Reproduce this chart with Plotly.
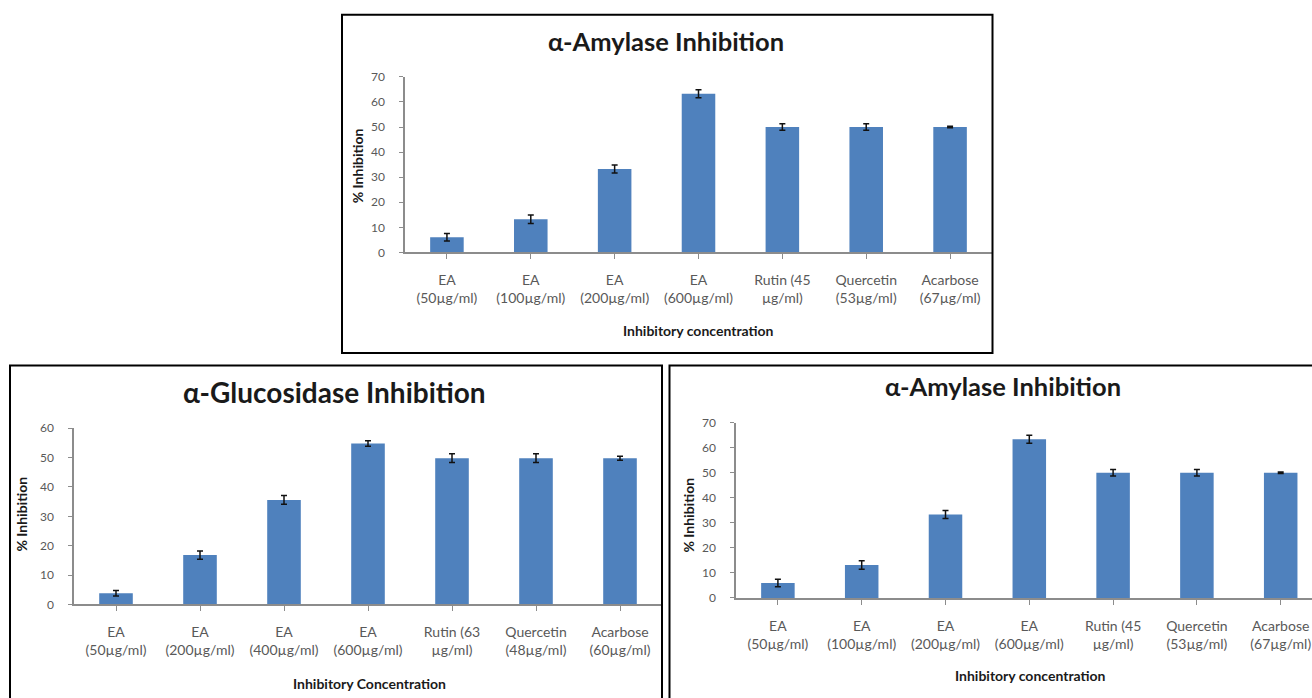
import plotly.graph_objects as go

W, H = 1312, 698

# ---- data ----
amy_labels = ["EA<br>(50µg/ml)", "EA<br>(100µg/ml)", "EA<br>(200µg/ml)", "EA<br>(600µg/ml)",
              "Rutin (45<br>µg/ml)", "Quercetin<br>(53µg/ml)", "Acarbose<br>(67µg/ml)"]
amy_values = [6.0, 13.2, 33.3, 63.3, 50.0, 50.0, 50.0]
amy_errors = [1.5, 1.7, 1.6, 1.6, 1.3, 1.3, 0.3]

glu_labels = ["EA<br>(50µg/ml)", "EA<br>(200µg/ml)", "EA<br>(400µg/ml)", "EA<br>(600µg/ml)",
              "Rutin (63<br>µg/ml)", "Quercetin<br>(48µg/ml)", "Acarbose<br>(60µg/ml)"]
glu_values = [3.8, 16.8, 35.6, 54.8, 49.8, 49.8, 49.8]
glu_errors = [0.9, 1.4, 1.5, 0.9, 1.5, 1.5, 0.7]

cats = list(range(7))

BAR = "#4F81BD"
AX = "#8C8C8C"
TICKC = "#595959"
FONT = "Lato"

# measured page-to-photo vertical mapping: photo_y = Y0 + SY * page_y
Y0, SY = 7.85, 0.9776


def px(x):
    return x / W


def py(y):
    return 1 - ((y - Y0) / SY) / H


fig = go.Figure()

panels = [
    ("x", "y", amy_labels, amy_values, amy_errors, (405, 992), (252, 76.7), 70, [-0.5, 6.5]),
    ("x2", "y2", glu_labels, glu_values, glu_errors, (74, 662), (603.7, 427.7), 60, [-0.5, 6.5]),
    ("x3", "y3", amy_labels, amy_values, amy_errors, (736, 1312), (597.3, 422), 70,
     [-0.5, 6.5 - 10.6 / 83.8]),
]

for i, (xa, ya, labels, vals, errs, xd, yd, ymax, xr) in enumerate(panels):
    fig.add_trace(go.Bar(
        x=cats, y=vals, xaxis=xa, yaxis=ya,
        marker=dict(color=BAR, line=dict(width=0)),
        width=0.4,
        error_y=dict(type="data", array=errs, visible=True, color="#111111",
                     thickness=1.5, width=3),
        showlegend=False,
    ))
    sfx = "" if i == 0 else str(i + 1)
    fig.update_layout(**{
        "xaxis" + sfx: dict(
            domain=[px(xd[0]), px(xd[1])], anchor=ya, range=xr,
            tickmode="array", tickvals=cats, ticktext=labels,
            tickson="boundaries", ticks="outside", ticklen=5, tickcolor=AX,
            showline=True, linecolor=AX, linewidth=1.5,
            showgrid=False, zeroline=False,
            tickfont=dict(family=FONT, size=14, color=TICKC),
            ticklabelstandoff=9,
            fixedrange=True,
        ),
        "yaxis" + sfx: dict(
            domain=[py(yd[0]), py(yd[1])], anchor=xa, range=[0, ymax],
            tickmode="linear", tick0=0, dtick=10,
            ticks="outside", ticklen=4, tickcolor=AX,
            showline=True, linecolor=AX, linewidth=1.5,
            showgrid=False, zeroline=False,
            tickfont=dict(family=FONT, size=12, color=TICKC),
            ticklabelstandoff=12,
            fixedrange=True,
        ),
    })

annotations = [
    dict(text="<b>α-Amylase Inhibition</b>", x=px(666), y=py(41), size=25.5),
    dict(text="<b>α-Glucosidase Inhibition</b>", x=px(335), y=py(391), size=28),
    dict(text="<b>α-Amylase Inhibition</b>", x=px(1003), y=py(385), size=25.5),
    dict(text="<b>Inhibitory concentration</b>", x=px(698), y=py(330), size=14),
    dict(text="<b>Inhibitory Concentration</b>", x=px(369), y=py(683), size=14),
    dict(text="<b>Inhibitory concentration</b>", x=px(1030), y=py(675), size=14),
]
ann = []
for a in annotations:
    ann.append(dict(text=a["text"], x=a["x"], y=a["y"], xref="paper", yref="paper",
                    xanchor="center", yanchor="middle", showarrow=False,
                    font=dict(family=FONT, size=a["size"], color="#1a1a1a")))
for (x, y) in [(357, 166), (22, 514), (689, 515)]:
    ann.append(dict(text="<b>% Inhibition</b>", x=px(x), y=py(y), xref="paper", yref="paper",
                    xanchor="center", yanchor="middle", showarrow=False, textangle=-90,
                    font=dict(family=FONT, size=14, color="#1a1a1a")))

shapes = [
    dict(type="rect", xref="paper", yref="paper", x0=px(342), x1=px(992.5), y0=py(352.5), y1=py(14.5),
         line=dict(color="black", width=2)),
    dict(type="rect", xref="paper", yref="paper", x0=px(10), x1=px(662), y0=py(720), y1=py(365),
         line=dict(color="black", width=2)),
    dict(type="rect", xref="paper", yref="paper", x0=px(669.5), x1=px(1330), y0=py(720), y1=py(365),
         line=dict(color="black", width=2)),
]

fig.update_layout(
    width=W, height=H, autosize=False,
    margin=dict(l=0, r=0, t=0, b=0),
    paper_bgcolor="white", plot_bgcolor="white",
    annotations=ann, shapes=shapes,
    font=dict(family=FONT),
)

post = (
    "document.documentElement.style.overflow='hidden';"
    "document.body.style.margin='0';document.body.style.padding='0';"
    "document.body.style.overflow='hidden';"
    "var d=document.getElementById('{plot_id}');"
    "d.style.position='fixed';d.style.top='0px';d.style.left='0px';"
)

fig.write_html("out.html", config={"displayModeBar": False}, post_script=post)
